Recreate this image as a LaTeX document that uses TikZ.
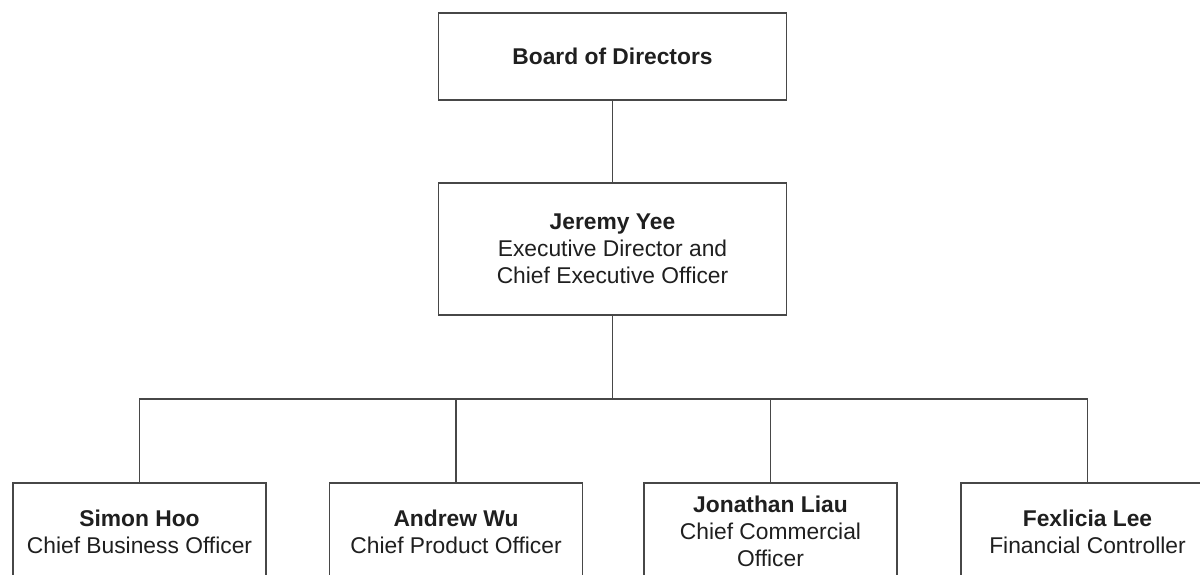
\documentclass[tikz,border=0pt]{standalone}
\usepackage{fontspec}
\setmainfont{Liberation Sans}
\begin{document}
\begin{tikzpicture}[x=1pt,y=-1pt,
  box/.style={draw=black!72,line width=1.1pt,fill=white,inner sep=0pt,align=center,
    text=black!88,font=\fontsize{22.8}{27}\selectfont},
  link/.style={draw=black!72,line width=1.1pt}]
\useasboundingbox (0,0) rectangle (1200,574);
\clip (0,0) rectangle (1200,574);
\node[box,minimum width=348,minimum height=87] (board) at (612.5,56.5) {\textbf{Board of Directors}};
\node[box,minimum width=348,minimum height=132] (ceo) at (612.5,249) {\textbf{Jeremy Yee}\\Executive Director and\\Chief Executive Officer};
\node[box,minimum width=253,minimum height=97] (cbo) at (139.5,531.5) {\textbf{Simon Hoo}\\Chief Business Officer};
\node[box,minimum width=253,minimum height=97] (cpo) at (456,531.5) {\textbf{Andrew Wu}\\Chief Product Officer};
\node[box,minimum width=253,minimum height=97] (cco) at (770.5,531.5) {\textbf{Jonathan Liau}\\Chief Commercial\\Officer};
\node[box,minimum width=253,minimum height=97] (fc) at (1087.5,531.5) {\textbf{Fexlicia Lee}\\Financial Controller};
\coordinate (bus) at (612.5,399);
\draw[link] (board.south) -- (ceo.north);
\draw[link] (ceo.south) -- (bus);
\draw[link] (cbo.north) -- (cbo.north |- bus) -- (fc.north |- bus) -- (fc.north);
\draw[link] (cpo.north) -- (cpo.north |- bus);
\draw[link] (cco.north) -- (cco.north |- bus);
\end{tikzpicture}
\end{document}
